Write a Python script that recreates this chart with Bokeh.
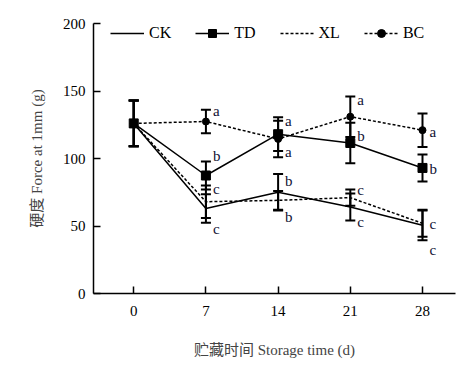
from bokeh.plotting import figure
from bokeh.models import (ColumnDataSource, Whisker, TeeHead, Legend, LegendItem,
                          Range1d, FixedTicker)
from bokeh.core.properties import value
from bokeh.embed import file_html
from bokeh.resources import INLINE

days = [0, 7, 14, 21, 28]
ck = [126, 63, 75, 64, 50.5]
ck_err = [17, 10.5, 13.5, 10, 11]
td = [126, 87.4, 118, 111.5, 93]
td_err = [17, 10.4, 12.5, 15, 10]
xl = [126, 68, 69, 71, 52]
xl_err = [17, 12, 7, 6, 10]
bc = [126, 127.4, 114.5, 131, 121]
bc_err = [17, 8.7, 13.5, 15, 12.4]

letter_day = [7, 7, 7, 7, 14, 14, 14, 14, 21, 21, 21, 21, 28, 28, 28, 28]
letter_y = [135, 101.5, 77.5, 48, 128, 104.7, 83.7, 56.5,
            143, 117, 76.8, 52.8, 119.5, 92.3, 51.6, 31.9]
letter_txt = ["a", "b", "c", "c", "a", "a", "b", "b",
              "a", "b", "c", "c", "a", "b", "c", "c"]

yticks = [0, 50, 100, 150, 200]

SERIF = "'Liberation Serif', serif"
MIXED = "'Liberation Serif', 'Noto Sans CJK SC'"

p = figure(width=464, height=365, output_backend="svg", toolbar_location=None,
           x_range=Range1d(-3.9, 31.2), y_range=Range1d(0, 200),
           min_border_left=93, min_border_right=9, min_border_top=23,
           min_border_bottom=72)
p.outline_line_color = None
p.grid.visible = False
p.background_fill_color = "white"

for ax in (p.xaxis[0], p.yaxis[0]):
    ax.axis_line_width = 1.5
    ax.axis_line_color = "black"
    ax.major_tick_line_width = 1.5
    ax.major_tick_in = 7
    ax.major_tick_out = 0
    ax.minor_tick_in = 0
    ax.minor_tick_out = 0
    ax.major_label_text_font = SERIF
    ax.major_label_text_font_size = "15px"
    ax.major_label_text_color = "black"
    ax.axis_label_text_font = MIXED
    ax.axis_label_text_font_size = "15px"
    ax.axis_label_text_font_style = "normal"
    ax.axis_label_text_color = "#444444"

p.xaxis.ticker = FixedTicker(ticks=days)
p.yaxis.ticker = FixedTicker(ticks=yticks)
p.xaxis.major_label_standoff = 12
p.yaxis.major_label_standoff = 8
p.xaxis.axis_label = "贮藏时间 Storage time (d)"
p.yaxis.axis_label = "硬度 Force at 1mm (g)"
p.xaxis.axis_label_standoff = 23
p.yaxis.axis_label_standoff = 15

def add_err(vals, errs):
    src = ColumnDataSource(dict(x=days,
                                upper=[v + e for v, e in zip(vals, errs)],
                                lower=[v - e for v, e in zip(vals, errs)]))
    w = Whisker(base="x", upper="upper", lower="lower", source=src,
                line_color="black", line_width=2,
                upper_head=TeeHead(size=10, line_width=2, line_color="black"),
                lower_head=TeeHead(size=10, line_width=2, line_color="black"))
    p.add_layout(w)

for v, e in ((ck, ck_err), (td, td_err), (xl, xl_err), (bc, bc_err)):
    add_err(v, e)

ck_line = p.line(days, ck, line_color="black", line_width=1.5)
td_line = p.line(days, td, line_color="black", line_width=1.5)
xl_line = p.line(days, xl, line_color="black", line_width=1.5, line_dash="3 2")
bc_line = p.line(days, bc, line_color="black", line_width=1.5, line_dash="3 2")
td_sq = p.scatter(days, td, marker="square", size=9, fill_color="black", line_color="black")
bc_ci = p.scatter(days, bc, marker="circle", size=7, fill_color="black", line_color="black")

lsrc = ColumnDataSource(dict(x=letter_day, y=letter_y, t=letter_txt))
p.text(x="x", y="y", text="t", source=lsrc, x_offset=7, text_align="left",
       text_baseline="middle", text_font=value(SERIF),
       text_font_size="15px", text_color="#111133")

legend = Legend(items=[
    LegendItem(label="CK", renderers=[ck_line]),
    LegendItem(label="TD", renderers=[td_line, td_sq]),
    LegendItem(label="XL", renderers=[xl_line]),
    LegendItem(label="BC", renderers=[bc_line, bc_ci]),
], orientation="horizontal", location=(17, 250))
legend.border_line_color = None
legend.background_fill_alpha = 0
legend.padding = 0
legend.margin = 0
legend.spacing = 24
legend.glyph_width = 34
legend.glyph_height = 20
legend.label_standoff = 5
legend.label_text_font = SERIF
legend.label_text_font_size = "16px"
legend.label_text_font_style = "normal"
legend.label_text_color = "black"
p.add_layout(legend)

open("out.html", "w").write(file_html(p, INLINE))
